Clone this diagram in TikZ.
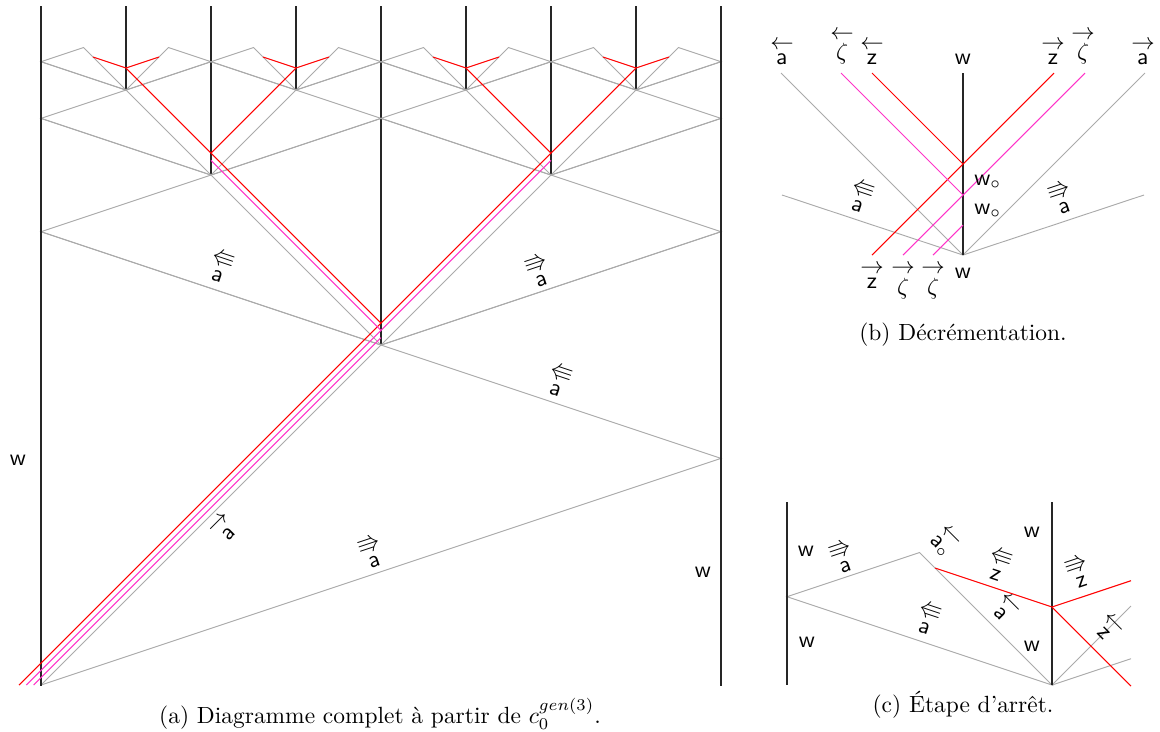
\documentclass[tikz,border=0pt]{standalone}
\usepackage{amsmath,amssymb}
\usepackage{tikz}
\usetikzlibrary{positioning,calc}

\definecolor{sgray}{RGB}{170,170,170}
\definecolor{zpink}{RGB}{255,50,200}

\newcommand{\stk}[2]{\shortstack{$#1$\\[-1pt]$#2$}}
\newcommand{\aL}{\stk{\leftarrow}{\mathsf{a}}}
\newcommand{\aR}{\stk{\rightarrow}{\mathsf{a}}}
\newcommand{\aLLL}{\stk{\Lleftarrow}{\mathsf{a}}}
\newcommand{\aRRR}{\stk{\Rrightarrow}{\mathsf{a}}}
\newcommand{\zL}{\stk{\leftarrow}{\mathsf{z}}}
\newcommand{\zR}{\stk{\rightarrow}{\mathsf{z}}}
\newcommand{\zLLL}{\stk{\Lleftarrow}{\mathsf{z}}}
\newcommand{\zRRR}{\stk{\Rrightarrow}{\mathsf{z}}}
\newcommand{\zetaL}{\stk{\leftarrow}{\zeta}}
\newcommand{\zetaR}{\stk{\rightarrow}{\zeta}}
\newcommand{\wsig}{$\mathsf{w}$}
\newcommand{\wcirc}{$\mathsf{w}_\circ$}

\begin{document}
\begin{tikzpicture}[
  x=0.015cm, y=-0.015cm,
  wall/.style={black!85, line width=0.45pt},
  sgn/.style={sgray, line width=0.4pt},
  zline/.style={red, line width=0.45pt},
  zetaline/.style={zpink, line width=0.45pt},
  lbl/.style={inner sep=0pt},
  capt/.style={inner sep=0pt, anchor=base}
]
  \useasboundingbox (0,0) rectangle (1160,731);

  % (a)
  \foreach \xa/\xb/\yo/\fin in {41/721/685/0, 381/41/345/0, 381/721/345/0,
      211/41/175/0, 211/381/175/0, 551/381/175/0, 551/721/175/0,
      126/41/90/1, 126/211/90/1, 296/211/90/1, 296/381/90/1,
      466/381/90/1, 466/551/90/1, 636/551/90/1, 636/721/90/1}{
    \pgfmathsetmacro{\hw}{abs(\xb-\xa)}
    \pgfmathsetmacro{\xc}{(\xa+\xb)/2}
    \pgfmathsetmacro{\yb}{\yo-\hw/3}
    \pgfmathsetmacro{\yc}{\yo-\hw/2}
    \pgfmathsetmacro{\yd}{\yo-2*\hw/3}
    \ifnum\fin=0
      \draw[sgn] (\xa,\yo) -- (\xb,\yb) -- (\xa,\yd);
      \draw[sgn] (\xa,\yo) -- (\xc,\yc) -- (\xb,\yd);
      \draw[wall] (\xc,6) -- (\xc,\yc);
    \else
      \draw[sgn] (\xa,\yo) -- (\xb,\yb) -- (\xc,\yc) -- cycle;
    \fi
  }
  \draw[wall] (41,6) -- (41,686);
  \draw[wall] (721,6) -- (721,686);

  \coordinate (z0) at (381,323);
  \coordinate (z1) at (211,153);
  \coordinate (z2) at (551,153);
  \coordinate (p0) at (381,330.3);
  \draw[zline] (19,685) -- (z0) -- (z2) -- (636,68);
  \draw[zline] (z0) -- (z1) -- (126,68);
  \draw[zline] (z1) -- (296,68);
  \draw[zline] (z2) -- (466,68);
  \foreach \c in {126,296,466,636} \draw[zline] (\c-33,57) -- (\c,68) -- (\c+33,57);
  \draw[zetaline] (26.3,685) -- (p0) -- (551,160.3);
  \draw[zetaline] (p0) -- (211,160.3);
  \draw[zetaline] (33.7,685) -- (381,337.7);

  \node[lbl] (wl) at (18,460) {\wsig};
  \node[lbl] (wr) at (703,572) {\wsig};
  \node[lbl, rotate=-18.4] (la1) at (221,266) {\aLLL};
  \node[lbl, rotate=18.4] (ra1) at (538,270) {\aRRR};
  \node[lbl, rotate=-18.4] (la0) at (559,380) {\aLLL};
  \node[lbl, rotate=45] (ar0) at (224,529) {\aR};
  \node[lbl, rotate=18.4] (ra0) at (371,551) {\aRRR};
  \node[capt] (capa) at (380,723) {(a) Diagramme complet à partir de $c_0^{gen(3)}$.};

  % (b)
  \coordinate (bw) at (963,255);
  \coordinate (bz) at (963,164);
  \coordinate (bp) at (963,195);
  \draw[sgn] (781,73) -- (bw) -- (1145,73);
  \draw[sgn] (782,195) -- (bw) -- (1144,195);
  \draw[wall] (963,73) -- (bw);
  \draw[zline] (872,255) -- (bz) -- (1054,73);
  \draw[zline] (bz) -- (872,73);
  \draw[zetaline] (903,255) -- (bp) -- (1085,73);
  \draw[zetaline] (bp) -- (841,73);
  \draw[zetaline] (933,255) -- (963,225);

  \foreach \x/\t [count=\i] in {782/\aL, 842/\zetaL, 872/\zL, 963/\wsig, 1053/\zR, 1083/\zetaR, 1143/\aR}
    \node[lbl, anchor=south] (bt\i) at (\x,65) {\t};
  \node[lbl, anchor=base west] (bo1) at (974,185) {\wcirc};
  \node[lbl, anchor=base west] (bo2) at (974,214) {\wcirc};
  \node[lbl, rotate=-18.4] (bla) at (861,196) {\aLLL};
  \node[lbl, rotate=18.4] (bra) at (1061,197) {\aRRR};
  \foreach \x/\t [count=\i] in {872/\zR, 903/\zetaR, 933/\zetaR}
    \node[lbl, anchor=north] (bb\i) at (\x,264) {\t};
  \node[lbl, anchor=north] (bbw) at (963,268) {\wsig};
  \node[capt] (capb) at (963,340) {(b) Décrémentation.};

  % (c)
  \coordinate (cw) at (1052,607);
  \coordinate (cb) at (1052,685);
  \draw[sgn] (cb) -- (787,596.7) -- (919.5,552.5) -- cycle;
  \draw[sgn] (cb) -- (1131,606);
  \draw[sgn] (cb) -- (1131,658.7);
  \draw[wall] (787,502) -- (787,685);
  \draw[wall] (1052,502) -- (cb);
  \draw[zline] (935,568) -- (cw) -- (1131,580.7);
  \draw[zline] (cw) -- (1131,686);

  \node[lbl] (cw1) at (806,551) {\wsig};
  \node[lbl, rotate=18.4] (cra) at (842,556) {\aRRR};
  \node[lbl, rotate=-45] (cao) at (944,542) {\stk{\leftarrow}{\mathsf{a}_\circ}};
  \node[lbl] (cw2) at (1032,532) {\wsig};
  \node[lbl, rotate=-18.4] (clz) at (999,564) {\zLLL};
  \node[lbl, rotate=18.4] (crz) at (1078,571) {\zRRR};
  \node[lbl, rotate=-45] (cla) at (1005,609) {\aL};
  \node[lbl, rotate=-18.4] (clla) at (928,618) {\aLLL};
  \node[lbl] (cw3) at (807,642) {\wsig};
  \node[lbl] (cw4) at (1032,646) {\wsig};
  \node[lbl, rotate=-45] (clzz) at (1108,629) {\zL};
  \node[capt] (capc) at (963,712) {(c) Étape d'arrêt.};
\end{tikzpicture}
\end{document}
